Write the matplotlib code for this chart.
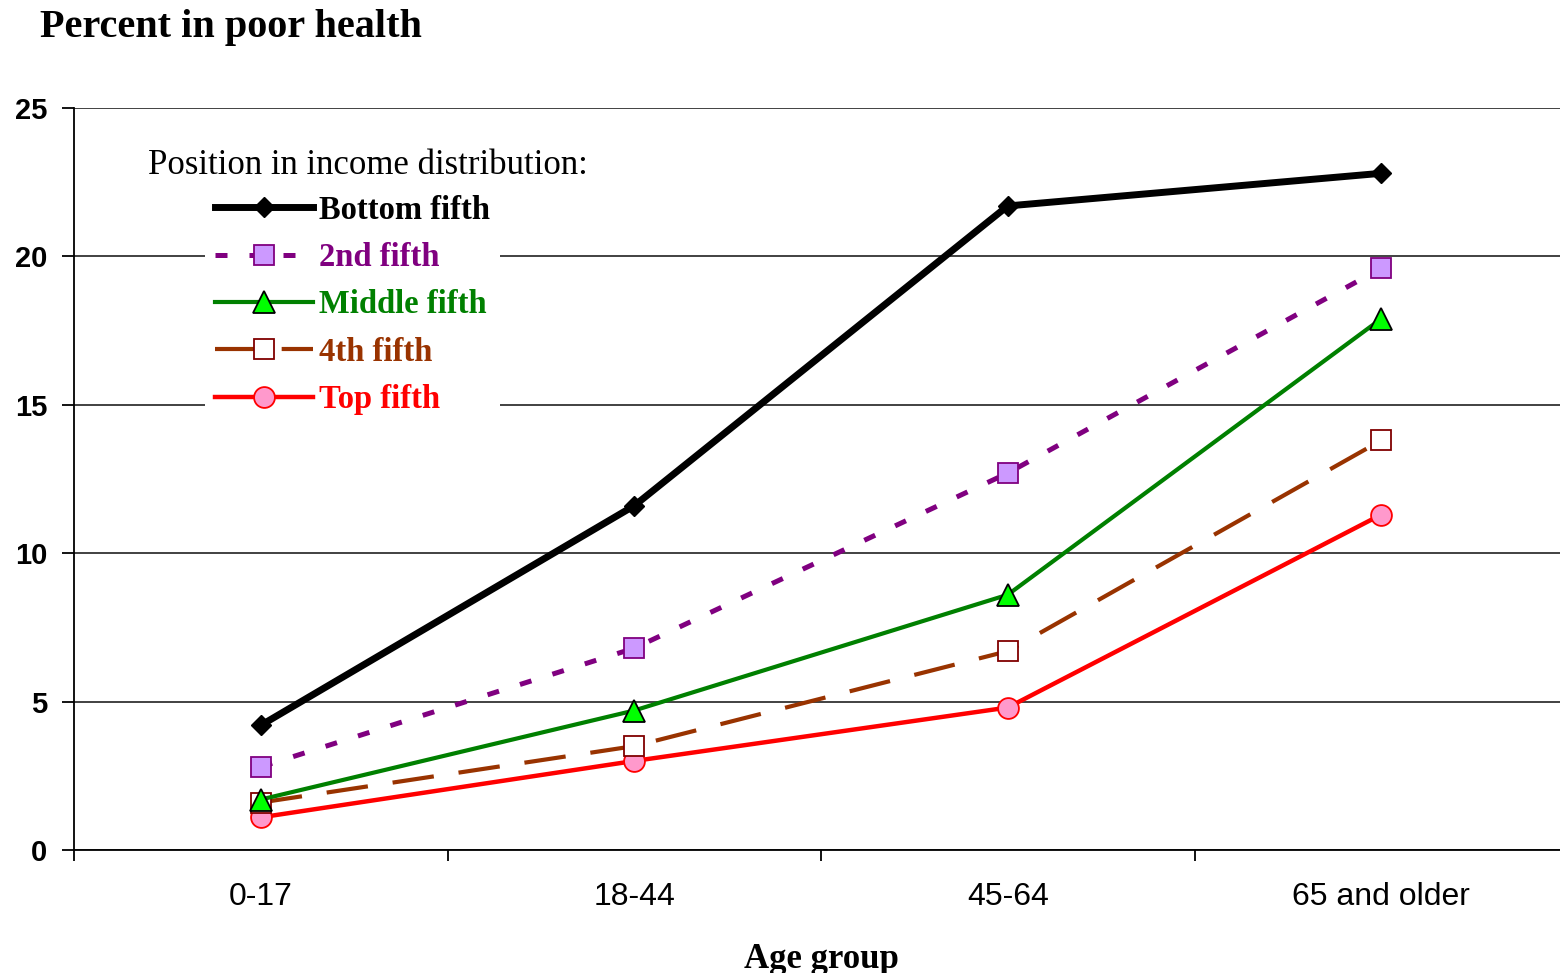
import matplotlib
matplotlib.use("Agg")
import matplotlib.pyplot as plt
from matplotlib.lines import Line2D

categories = ["0-17", "18-44", "45-64", "65 and older"]
series_names = ["Bottom fifth", "2nd fifth", "Middle fifth", "4th fifth", "Top fifth"]
bottom_fifth = [4.2, 11.6, 21.7, 22.8]
second_fifth = [2.8, 6.8, 12.7, 19.6]
middle_fifth = [1.7, 4.7, 8.6, 17.9]
fourth_fifth = [1.6, 3.5, 6.7, 13.8]
top_fifth = [1.1, 3.0, 4.8, 11.3]
y_ticks = [0, 5, 10, 15, 20, 25]

W, H = 1560, 973
fig = plt.figure(figsize=(W / 100, H / 100), dpi=100)
ax = fig.add_axes([74 / W, 123 / H, 1494 / W, 742 / H])

x = list(range(len(categories)))
styles = [
    dict(color="black", lw=5.0, ls="-", marker="D", ms=10, mfc="black", mec="black", mew=1),
    dict(color="#800080", lw=3.6, ls=(0, (2.4, 4.4)), marker="s", ms=15, mfc="#CC99FF", mec="#800080", mew=1.3),
    dict(color="#008000", lw=3.0, ls="-", marker="^", ms=16, mfc="#00FF00", mec="black", mew=1.3),
    dict(color="#993300", lw=3.0, ls=(0, (10, 6)), marker="s", ms=15, mfc="white", mec="#800000", mew=1.3),
    dict(color="#FF0000", lw=3.2, ls="-", marker="o", ms=15, mfc="#FF99CC", mec="#FF0000", mew=1.3),
]
data = [bottom_fifth, second_fifth, middle_fifth, fourth_fifth, top_fifth]
order = [4, 3, 2, 1, 0]
for i in order:
    ax.plot(x, data[i], label=series_names[i], zorder=3 + (4 - i), **styles[i])

ax.set_xlim(-0.5, 3.5)
ax.set_ylim(0, 25)
ax.set_yticks(y_ticks)
ax.set_xticks(x)
ax.set_xticklabels(categories, fontfamily="Liberation Sans", fontsize=23)
ax.set_xticks([-0.5, 0.5, 1.5, 2.5, 3.5], minor=True)
ax.tick_params(axis="x", which="major", length=0, pad=23)
ax.tick_params(axis="x", which="minor", length=8, width=1.3, direction="out")
ax.tick_params(axis="y", length=9, width=1.3, direction="out", pad=10)
for lab in ax.get_yticklabels():
    lab.set_fontfamily("Liberation Sans")
    lab.set_fontweight("bold")
    lab.set_fontsize(21)
ax.grid(axis="y", color="#333333", lw=1.3, zorder=0)
ax.set_axisbelow(True)
for s in ["top", "right"]:
    ax.spines[s].set_visible(False)
for s in ["left", "bottom"]:
    ax.spines[s].set_linewidth(1.3)
    ax.spines[s].set_color("black")

ax.set_xlabel("Age group", fontfamily="Liberation Serif", fontweight="bold", fontsize=25, labelpad=22)

fig.text(40 / W, 1 - 27 / H, "Percent in poor health", fontfamily="Liberation Serif",
         fontweight="bold", fontsize=29, va="center", ha="left")

handles = [Line2D([0], [0], **styles[i]) for i in range(5)]
leg = ax.legend(handles, series_names, loc="upper left",
                bbox_to_anchor=((205 - 74) / 1494, (850 - 185) / 742),
                frameon=True, fancybox=False, framealpha=1, facecolor="white",
                edgecolor="none", handlelength=3.0, handletextpad=0.2,
                labelspacing=0.5, borderpad=0.3, borderaxespad=0,
                prop=dict(family="Liberation Serif", weight="bold", size=23.5))
leg.set_zorder(2)
text_colors = ["black", "#800080", "#008000", "#993300", "#FF0000"]
for t, c in zip(leg.get_texts(), text_colors):
    t.set_color(c)

ax.text((148 - 74) / 1494, (850 - 165) / 742, "Position in income distribution:",
        transform=ax.transAxes, fontfamily="Liberation Serif", fontsize=25,
        va="center", ha="left", zorder=6)

fig.savefig("out.png", dpi=100)
